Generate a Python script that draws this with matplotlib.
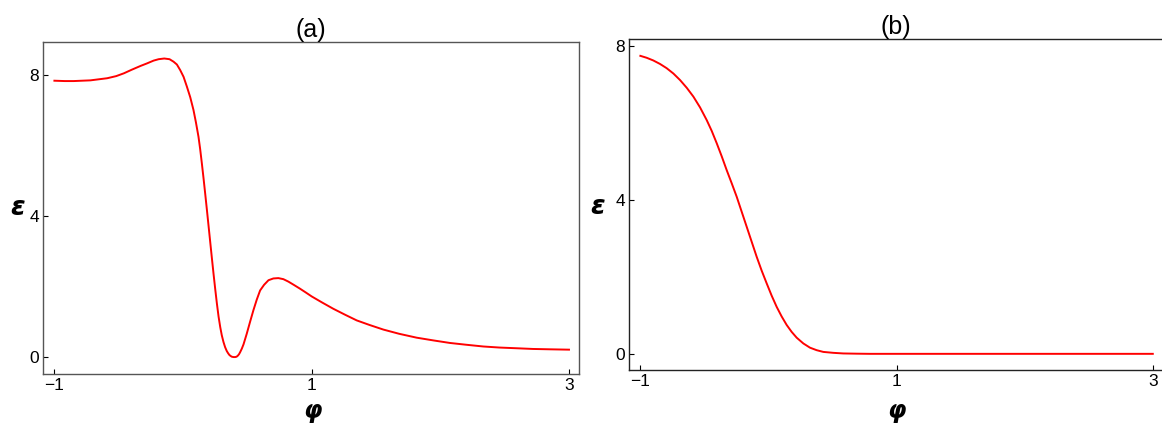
import numpy as np
import matplotlib
matplotlib.use("Agg")
import matplotlib.pyplot as plt

# panel (a) curve
phi_a = [-1.0, -0.92, -0.85, -0.72, -0.59, -0.52, -0.46, -0.40, -0.33, -0.281,
         -0.229, -0.190, -0.146, -0.105, -0.074, -0.048, -0.022, 0.004, 0.030, 0.056,
         0.081, 0.100, 0.120, 0.133, 0.146, 0.159, 0.172, 0.185, 0.198, 0.211,
         0.224, 0.237, 0.250, 0.263, 0.276, 0.289, 0.301, 0.314, 0.327, 0.340,
         0.350, 0.360, 0.370, 0.379, 0.392, 0.405, 0.416, 0.426, 0.435, 0.444,
         0.457, 0.470, 0.495, 0.521, 0.547, 0.573, 0.599, 0.630, 0.664, 0.702,
         0.741, 0.780, 0.819, 0.860, 0.909, 0.955, 1.0, 1.08, 1.168, 1.26,
         1.35, 1.45, 1.557, 1.68, 1.816, 1.95, 2.075, 2.2, 2.334, 2.46,
         2.593, 2.72, 2.852, 3.0]
eps_a = [7.84, 7.83, 7.83, 7.85, 7.91, 7.97, 8.05, 8.15, 8.26, 8.33,
         8.41, 8.45, 8.47, 8.45, 8.38, 8.30, 8.14, 7.95, 7.67, 7.37,
         7.01, 6.66, 6.25, 5.90, 5.50, 5.08, 4.64, 4.19, 3.73, 3.27,
         2.81, 2.36, 1.93, 1.52, 1.15, 0.85, 0.62, 0.43, 0.28, 0.17,
         0.11, 0.06, 0.03, 0.01, 0.0, 0.0, 0.01, 0.04, 0.08, 0.14,
         0.24, 0.36, 0.66, 1.00, 1.33, 1.63, 1.89, 2.05, 2.18, 2.23,
         2.24, 2.21, 2.14, 2.05, 1.94, 1.83, 1.72, 1.55, 1.37, 1.20,
         1.04, 0.91, 0.78, 0.66, 0.55, 0.47, 0.40, 0.35, 0.30, 0.27,
         0.25, 0.23, 0.22, 0.21]

# panel (b) curve
phi_b = [-1.0, -0.951, -0.899, -0.847, -0.795, -0.742, -0.69, -0.638, -0.586, -0.534,
         -0.482, -0.443, -0.404, -0.365, -0.326, -0.287, -0.248, -0.209, -0.170, -0.131,
         -0.092, -0.053, -0.014, 0.025, 0.064, 0.103, 0.142, 0.181, 0.220, 0.272,
         0.324, 0.376, 0.428, 0.506, 0.584, 0.69, 0.79, 1.0, 1.5, 2.0,
         2.5, 3.0]
eps_b = [7.74, 7.69, 7.62, 7.53, 7.42, 7.28, 7.11, 6.91, 6.68, 6.40,
         6.07, 5.79, 5.47, 5.13, 4.77, 4.43, 4.08, 3.69, 3.30, 2.91,
         2.52, 2.16, 1.83, 1.51, 1.22, 0.97, 0.75, 0.57, 0.42, 0.27,
         0.16, 0.095, 0.05, 0.026, 0.01, 0.004, 0.0, 0.0, 0.0, 0.0,
         0.0, 0.0]

x_ticks = [-1, 1, 3]
x_labels = ["\u22121", "1", "3"]
y_ticks = [0, 4, 8]

plt.rcParams['font.family'] = ['Liberation Sans', 'DejaVu Sans']

fig = plt.figure(figsize=(11.62, 4.28), dpi=100)
ax_a = fig.add_axes([0.0373, 0.1262, 0.4610, 0.7750])
ax_b = fig.add_axes([0.5415, 0.1355, 0.4594, 0.7727])


def style_axes(ax, title, frame_color, xlim, ylim, eps_xy, phi_xy):
    ax.set_xlim(*xlim)
    ax.set_ylim(*ylim)
    ax.set_xticks(x_ticks)
    ax.set_xticklabels(x_labels)
    ax.set_yticks(y_ticks)
    ax.tick_params(direction='in', length=3.5, width=0.8, labelsize=12.5,
                   colors='black', pad=3)
    for s in ax.spines.values():
        s.set_color(frame_color)
        s.set_linewidth(1.0)
    ax.set_title(title, fontsize=18, pad=3)
    ax.set_ylabel("\u03b5", rotation=0, fontsize=19, fontweight='bold',
                  fontstyle='italic', family=['DejaVu Sans'], va='center', ha='center')
    ax.yaxis.set_label_coords(*eps_xy)
    ax.set_xlabel("\u03c6", fontsize=17, fontweight='bold',
                  fontstyle='italic', family=['DejaVu Sans'], va='center', ha='center')
    ax.xaxis.set_label_coords(*phi_xy)


ax_a.plot(phi_a, eps_a, color='#ff0000', lw=1.4)
style_axes(ax_a, "(a)", '#555555', (-1.086, 3.078), (-0.48, 8.93),
           (-0.049, 0.50), (0.5016, -0.111))

ax_b.plot(phi_b, eps_b, color='#ff0000', lw=1.4)
style_axes(ax_b, "(b)", '#222222', (-1.087, 3.08), (-0.42, 8.17),
           (-0.060, 0.494), (0.4998, -0.124))

fig.savefig("out.png", dpi=100)
